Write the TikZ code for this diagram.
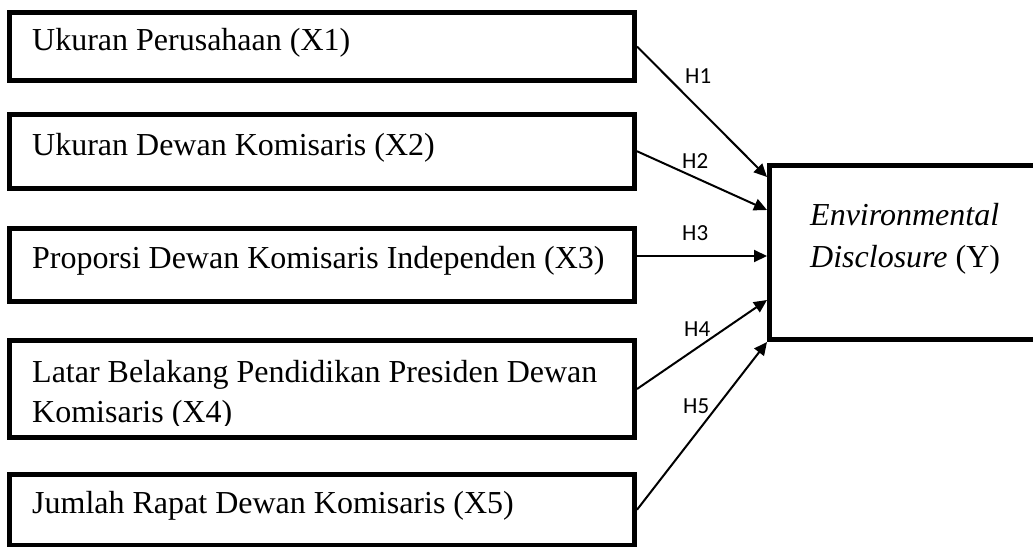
\documentclass[tikz,border=0pt]{standalone}
\usepackage{fontspec}
\setmainfont{Liberation Serif}
\newfontfamily\hfont{Carlito}
\usetikzlibrary{arrows.meta,calc}
\begin{document}
\begin{tikzpicture}[x=1pt,y=-1pt,
  box/.style={draw, line width=5pt, inner sep=0pt},
  txt/.style={anchor=base west, inner sep=0pt, font=\fontsize{32}{40}\selectfont},
  hlab/.style={anchor=base west, inner sep=0pt, font=\hfont\fontsize{23}{28}\selectfont},
  conn/.style={line width=2pt, -{Triangle[length=13pt,width=12pt]}}]
\useasboundingbox (0,0) rectangle (1033,546);
\clip (0,0) rectangle (1033,546);
% boxes
\node[box, minimum width=625pt, minimum height=68pt] (b1) at (322,46.5) {};
\node[box, minimum width=625pt, minimum height=73.5pt] (b2) at (322,151.25) {};
\node[box, minimum width=625pt, minimum height=73pt] (b3) at (322,265) {};
\node[box, minimum width=625pt, minimum height=97pt] (b4) at (322,389) {};
\node[box, minimum width=625pt, minimum height=70.5pt] (b5) at (322,509.75) {};
\node[box, minimum width=280.5pt, minimum height=174pt] (Y) at (909.75,252.5) {};
% texts
\node[txt] (l1) at (32,50) {Ukuran Perusahaan (X1)};
\node[txt] (l2) at (32,155) {Ukuran Dewan Komisaris (X2)};
\node[txt] (l3) at (32,268) {Proporsi Dewan Komisaris Independen (X3)};
\node[txt] (l4a) at (32,382) {Latar Belakang Pendidikan Presiden Dewan};
\begin{scope}
\clip (20,395) rectangle (630,425);
\node[txt] (l4b) at (32,422) {Komisaris (X4)};
\end{scope}
\node[txt] (l5) at (32,513) {Jumlah Rapat Dewan Komisaris (X5)};
\node[txt] (ly1) at (810,225) {\textit{Environmental}};
\node[txt] (ly2) at (810,267) {\textit{Disclosure} (Y)};
% targets
\coordinate (t1) at (Y.west |- 0,177);
\coordinate (t2) at (Y.west |- 0,210);
\coordinate (t3) at (Y.west |- 0,256);
\coordinate (t4) at (Y.west |- 0,300);
\coordinate (t5) at (Y.west |- 0,342);
\coordinate (s3) at (b3.east |- 0,256);
% connectors
\draw[conn] (b1.east) -- (t1);
\draw[conn] (b2.east) -- (t2);
\draw[conn] (s3) -- (t3);
\draw[conn] (b4.east) -- (t4);
\draw[conn] (b5.east) -- (t5);
% hypothesis labels
\node[hlab] (h1) at (685,83) {H1};
\node[hlab] (h2) at (682,168) {H2};
\node[hlab] (h3) at (682,240) {H3};
\node[hlab] (h4) at (684,336) {H4};
\node[hlab] (h5) at (683,413) {H5};
\end{tikzpicture}
\end{document}
